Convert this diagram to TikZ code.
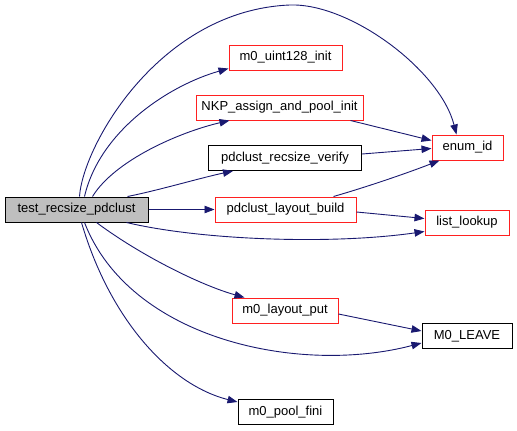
\documentclass[tikz,border=0pt]{standalone}
\usepackage{fontspec}
\setmainfont{Liberation Sans}
\usetikzlibrary{arrows.meta,calc}
\definecolor{edgeblue}{HTML}{191970}
\definecolor{boxred}{HTML}{FF2020}
\definecolor{rootgray}{HTML}{BFBFBF}
\begin{document}
\begin{tikzpicture}[x=1pt,y=-1pt,
  fn/.style={draw=black,line width=1pt,fill=white,minimum height=25pt,inner sep=0pt,font=\fontsize{13}{15}\selectfont},
  redfn/.style={fn,draw=boxred},
  rootfn/.style={fn,fill=rootgray},
  call/.style={draw=edgeblue,line width=0.9pt,-{Triangle[length=10pt,width=7.5pt]}}]
\useasboundingbox (0,0) rectangle (517,431);
\node[rootfn,minimum width=143pt] (test) at (76.5,209.5) {test\_recsize\_pdclust};
\node[redfn,minimum width=113pt] (m0u) at (285.5,57.5) {m0\_uint128\_init};
\node[redfn,minimum width=167pt] (nkp) at (279.5,107.5) {NKP\_assign\_and\_pool\_init};
\node[fn,minimum width=153pt] (verify) at (285,158) {pdclust\_recsize\_verify};
\node[redfn,minimum width=71pt] (enum) at (467.5,147.5) {enum\_id};
\node[redfn,minimum width=141pt] (build) at (285.5,209.5) {pdclust\_layout\_build};
\node[redfn,minimum width=84pt] (list) at (467,222.5) {list\_lookup};
\node[redfn,minimum width=106pt] (put) at (285,310.5) {m0\_layout\_put};
\node[fn,minimum width=90pt] (leave) at (467,336) {M0\_LEAVE};
\node[fn,minimum width=95pt] (fini) at (285.5,412) {m0\_pool\_fini};

% test -> enum_id (big top arc)
\draw[call] ($(test.north west)+(75,0)$) .. controls (83,145) and (160,10) .. (290,5)
  .. controls (350,3) and (440,70) .. ($(enum.north west)+(25,0)$);
% test -> m0_uint128_init
\draw[call] ($(test.north west)+(80,0)$) .. controls (100,130) and (170,85) .. ($(m0u.south west)+(0,-2)$);
% test -> NKP
\draw[call] ($(test.north west)+(88,0)$) .. controls (115,160) and (180,132) .. ($(nkp.south west)+(34,0)$);
% test -> verify
\draw[call] ($(test.north west)+(123,0)$) .. controls (160,190) and (200,178) .. ($(verify.south west)+(25,0)$);
% test -> build
\draw[call] (test.east) -- (build.west);
% test -> list_lookup
\draw[call] ($(test.south west)+(122,0)$) .. controls (200,240) and (330,245) .. ($(list.south west)+(0,-4)$);
% test -> m0_layout_put
\draw[call] ($(test.south west)+(92,0)$) .. controls (140,255) and (200,285) .. ($(put.north west)+(13,0)$);
% test -> M0_LEAVE
\draw[call] ($(test.south west)+(80,0)$) .. controls (130,340) and (300,375) .. ($(leave.south west)+(0,-6)$);
% test -> m0_pool_fini
\draw[call] ($(test.south west)+(77,0)$) .. controls (110,320) and (170,385) .. ($(fini.north west)+(0,3)$);
% NKP -> enum_id
\draw[call] ($(nkp.south east)+(-13,0)$) -- ($(enum.west)+(0,-7)$);
% verify -> enum_id
\draw[call] ($(verify.east)+(0,-4)$) -- ($(enum.west)+(0,1)$);
% build -> enum_id
\draw[call] ($(build.north east)+(-23,0)$) .. controls (370,186) and (410,172) .. ($(enum.south west)+(8,0)$);
% build -> list_lookup
\draw[call] ($(build.east)+(0,2.5)$) -- ($(list.west)+(0,-4)$);
% put -> M0_LEAVE
\draw[call] ($(put.east)+(0,3.5)$) -- ($(leave.west)+(0,-5)$);
\end{tikzpicture}
\end{document}
